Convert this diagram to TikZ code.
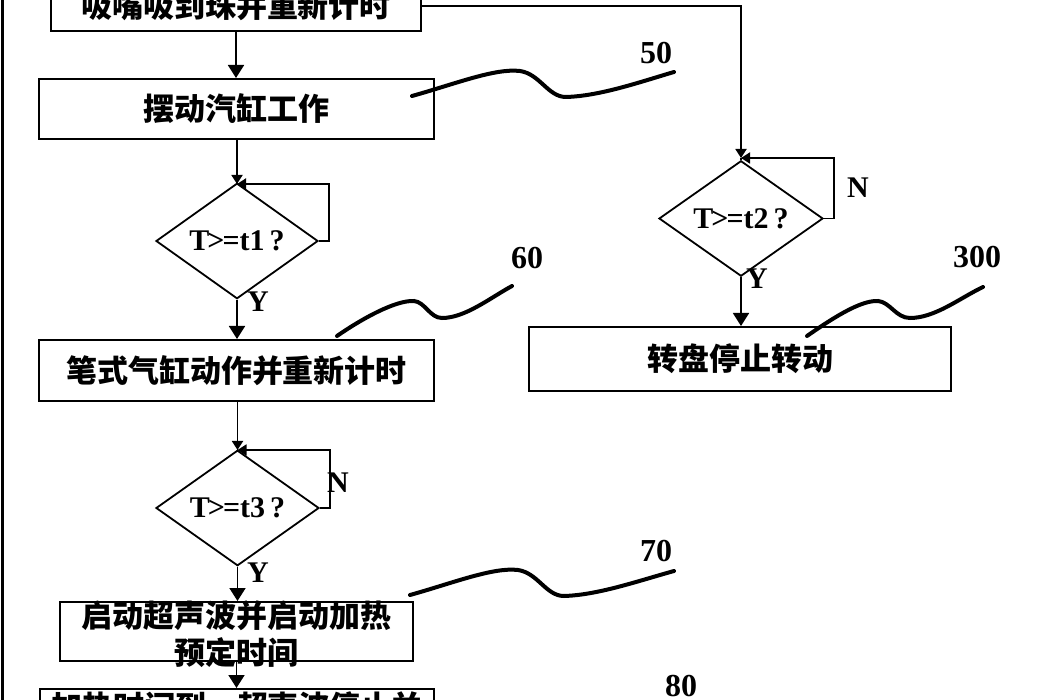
\documentclass[tikz,border=0pt]{standalone}
\usepackage{fontspec}
\setmainfont{Liberation Serif}
\newfontfamily\cjk{Noto Sans CJK SC}
\usetikzlibrary{shapes.geometric,arrows.meta}
\begin{document}
\begin{tikzpicture}[x=1pt,y=-1pt,
  box/.style={draw, line width=2pt, rectangle, inner sep=0pt, font=\cjk\bfseries\fontsize{31}{37}\selectfont},
  dia/.style={draw, line width=1.8pt, diamond, inner sep=0pt, font=\bfseries\fontsize{30}{30}\selectfont},
  conn/.style={line width=1.8pt},
  arr/.style={conn,-{Triangle[length=13pt,width=16pt]}},
  jarr/.style={conn,-{Triangle[length=9pt,width=11pt]}},
  yn/.style={font=\bfseries\fontsize{30}{30}\selectfont, inner sep=0pt},
  num/.style={font=\bfseries\fontsize{32}{32}\selectfont, inner sep=0pt},
  lead/.style={line width=4pt, line cap=round}]
\useasboundingbox (0,0) rectangle (1050,700);
\clip (0,0) rectangle (1050,700);
\fill[white] (0,0) rectangle (1050,700);

% left border line
\draw[line width=3pt] (2,0) -- (2,700);

% boxes
\node[box, minimum width=370pt, minimum height=50pt] (b1) at (236,6) {吸嘴吸到珠并重新计时};
\node[box, minimum width=395pt, minimum height=60pt] (b2) at (236.5,109) {摆动汽缸工作};
\node[box, minimum width=395pt, minimum height=61pt] (b3) at (236.5,370.5) {笔式气缸动作并重新计时};
\node[box, minimum width=353pt, minimum height=59pt] (b4) at (236.5,631.5) {};
\node[font=\cjk\bfseries\fontsize{31}{37}\selectfont, align=center, inner sep=0pt] (b4t) at (236.5,634) {启动超声波并启动加热\\预定时间};
\node[box, minimum width=394pt, minimum height=36pt] (b5) at (237,707) {加热时间到，超声波停止并};
\node[box, minimum width=422pt, minimum height=64pt] (b6) at (740,359) {转盘停止转动};

% diamonds
\node[dia, minimum width=162pt, minimum height=97pt] (d1) at (237,241) {T\kern-2pt>\kern-2pt=t1\,?};
\node[dia, minimum width=164pt, minimum height=97pt] (d2) at (741,218.5) {T\kern-2pt>\kern-2pt=t2\,?};
\node[dia, minimum width=163pt, minimum height=98pt] (d3) at (237.5,508) {T\kern-2pt>\kern-2pt=t3\,?};

% junctions
\coordinate (j1) at (237,184);
\coordinate (j2) at (741,158);
\coordinate (j3) at (237.5,450);

% connectors
\draw[arr] (b1.south) -- (b1.south |- b2.north);
\draw[jarr] (b1.east) -| (j2);
\draw[jarr] (b2.south -| j1) -- (j1);
\draw[conn] (j1) -- (d1.north);
\draw[jarr] (d1.east) -- ++(10,0) |- (j1);
\draw[arr] (d1.south) -- (d1.south |- b3.north);
\draw[jarr] (b3.south -| j3) -- (j3);
\draw[conn] (j3) -- (d3.north);
\draw[jarr] (d3.east) -- ++(10,0) |- (j3);
\draw[arr] (d3.south) -- (d3.south |- b4.north);
\draw[arr] (b4.south) -- (b4.south |- b5.north);
\draw[conn] (j2) -- (d2.north);
\draw[jarr] (d2.east) -- ++(10,0) |- (j2);
\draw[arr] (d2.south) -- (d2.south |- b6.north);

% Y / N labels
\node[yn] (y1) at (258,302) {Y};
\node[yn] (y3) at (258,573) {Y};
\node[yn] (n3) at (338,483) {N};
\node[yn] (y2) at (757,279) {Y};
\node[yn] (n2) at (858,188) {N};

% reference numbers
\node[num] (l50) at (656,53) {50};
\node[num] (l60) at (527,258) {60};
\node[num] (l70) at (656,551) {70};
\node[num] (l80) at (681,686) {80};
\node[num] (l300) at (977,257) {300};

% leader curves
\draw[lead] (412,96) .. controls (455,84) and (495,68) .. (520,71)
  .. controls (540,74) and (548,97) .. (566,97)
  .. controls (600,96) and (640,82) .. (674,72);
\draw[lead] (410,595) .. controls (453,583) and (493,567) .. (518,570)
  .. controls (538,573) and (546,596) .. (564,596)
  .. controls (598,595) and (638,581) .. (674,571);
\draw[lead] (337,336) .. controls (360,320) and (395,300) .. (414,301)
  .. controls (425,302) and (430,318) .. (442,318)
  .. controls (465,318) and (490,298) .. (512,286);
\draw[lead] (807,336) .. controls (830,320) and (860,300) .. (878,301)
  .. controls (890,302) and (896,318) .. (910,318)
  .. controls (935,318) and (960,298) .. (983,287);
\end{tikzpicture}
\end{document}
